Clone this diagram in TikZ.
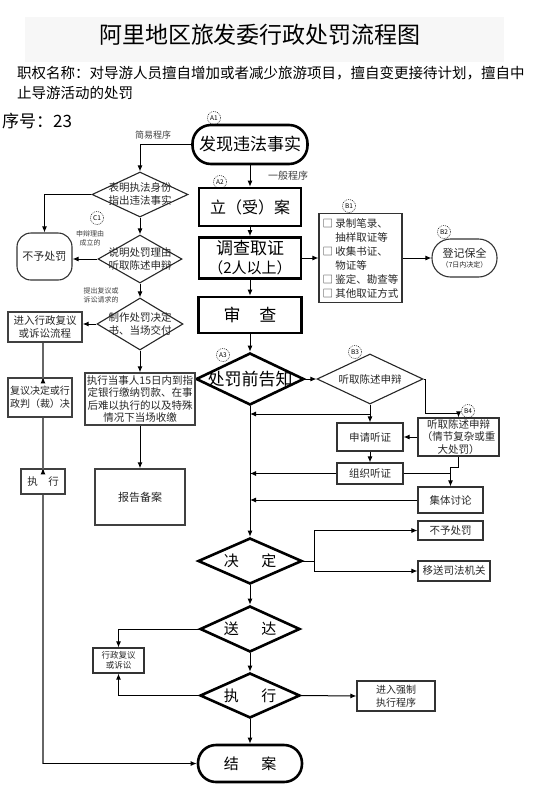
\documentclass[tikz,border=0pt]{standalone}
\usepackage{fontspec}
\setmainfont{Noto Sans CJK SC}
\usetikzlibrary{shapes.geometric,arrows.meta}
\newcommand\fs[2]{\fontsize{#1pt}{#2pt}\selectfont}
\begin{document}
\begin{tikzpicture}[x=1pt,y=-1pt,
  every node/.style={inner sep=1pt},
  thk/.style={draw=black, line width=2.6pt, align=center},
  bx/.style={draw=black!80, line width=1.1pt, align=center, text=black!85},
  lbx/.style={draw=black!75, line width=1.4pt, align=center, text=black!85},
  dia/.style={diamond, draw=black, line width=2.6pt, inner sep=0pt},
  sdia/.style={diamond, draw=black!85, line width=1.1pt, inner sep=0pt},
  arr/.style={draw=black, line width=1pt, -{Latex[length=6pt,width=5pt]}},
  garr/.style={draw=black!60, line width=1.8pt, -{Latex[length=6pt,width=5pt]}, arrows={-{Latex[length=6pt,width=5pt,fill=black,color=black]}}},
  ln/.style={draw=black, line width=1pt},
  gln/.style={draw=black!60, line width=1.8pt},
  tag/.style={circle, draw=black, dash pattern=on 1pt off 1pt, line width=0.5pt, minimum size=13pt, inner sep=0pt, font=\fs{6.5}{7}},
  note/.style={text=black!75, align=center},
]
\useasboundingbox (0,0) rectangle (554,796);
\fill[black!3] (25,17) rectangle (504,62);
% title
\node[font=\fs{23}{23}] (title) at (260,35) {阿里地区旅发委行政处罚流程图};
\node[font=\fs{14.5}{18}, anchor=west] (sub1) at (16,73) {职权名称：对导游人员擅自增加或者减少旅游项目，擅自变更接待计划，擅自中};
\node[font=\fs{14.5}{18}, anchor=west] (sub2) at (16,93) {止导游活动的处罚};
\node[font=\fs{17}{18}, anchor=west] (seq) at (1,121) {序号：23};

% main column
\node[thk, rounded corners=18.5pt, minimum width=115pt, minimum height=39pt, font=\fs{17}{18}] (find) at (250,144.5) {发现违法事实};
\node[thk, minimum width=102pt, minimum height=38pt, font=\fs{16}{18}] (case) at (250,207) {立（受）案};
\node[thk, minimum width=102pt, minimum height=41pt, font=\fs{17}{19}] (inv) at (250,258) {调查取证\\{\fs{15}{19}（2人以上）}};
\node[thk, minimum width=103pt, minimum height=36pt, font=\fs{17}{18}] (rev2) at (250,315) {审\hspace{1.1em}查};
\node[dia, minimum width=108pt, minimum height=52pt] (pre) at (250,379) {};
\node[font=\fs{17}{18}] (pret) at (pre) {处罚前告知};
\node[dia, minimum width=104pt, minimum height=46pt] (dec) at (250,561) {};
\node[font=\fs{15}{16}] (dect) at (dec) {决\hspace{1.5em}定};
\node[dia, minimum width=100pt, minimum height=46pt] (deliver) at (250,629) {};
\node[font=\fs{15}{16}] (delivert) at (deliver) {送\hspace{1.5em}达};
\node[dia, minimum width=100pt, minimum height=45pt] (exec2) at (250,695.5) {};
\node[font=\fs{15}{16}] (exec2t) at (exec2) {执\hspace{1.5em}行};
\node[thk, rounded corners=18pt, minimum width=104pt, minimum height=37pt, font=\fs{15}{16}] (end) at (250,763.5) {结\hspace{1.5em}案};

\node[tag] (a1) at (214,118) {A1};
\node[tag] (a2) at (220,182) {A2};
\node[tag] (a3) at (223,355) {A3};
\node[note, font=\fs{9}{10}] (simple) at (153,135) {简易程序};
\node[note, font=\fs{10}{11}] (general) at (288,176) {一般程序};

% left column
\node[sdia, minimum width=96pt, minimum height=45pt] (d1) at (140,194.5) {};
\node[font=\fs{10.5}{13}, align=center, text=black!85] (d1t) at (d1) {表明执法身份\\指出违法事实};
\node[sdia, minimum width=84pt, minimum height=48pt] (d2) at (140,259) {};
\node[font=\fs{10.5}{13}, align=center, text=black!85] (d2t) at (d2) {说明处罚理由\\听取陈述申辩};
\node[sdia, minimum width=86pt, minimum height=52pt] (d3) at (140,324) {};
\node[font=\fs{10.5}{13}, align=center, text=black!85] (d3t) at (d3) {制作处罚决定\\书、当场交付};
\node[bx, rounded corners=14pt, minimum width=55pt, minimum height=47pt, font=\fs{11}{12}] (noA) at (44.5,256.5) {不予处罚};
\node[tag] (c1) at (97,218) {C1};
\node[note, font=\fs{7}{9}] (reason) at (90,238) {申辩理由\\成立的};
\node[note, font=\fs{7}{9}] (request) at (101,295) {提出复议或\\诉讼请求的};
\node[lbx, minimum width=74pt, minimum height=30pt, font=\fs{10.5}{13}] (rev) at (45,327) {进入行政复议\\或诉讼流程};
\node[lbx, minimum width=64pt, minimum height=39pt, font=\fs{10}{13}] (decb) at (40,397.5) {复议决定或行\\政判（裁）决};
\node[lbx, minimum width=44pt, minimum height=25pt, font=\fs{10.5}{12}] (exec1) at (43,481.5) {执\hspace{1em}行};
\node[lbx, minimum width=110pt, minimum height=52pt, font=\fs{10.5}{12.5}] (pay) at (140,399) {执行当事人15日内到指\\定银行缴纳罚款、在事\\后难以执行的以及特殊\\情况下当场收缴};
\node[lbx, minimum width=90pt, minimum height=56pt, font=\fs{11}{12}] (report) at (140,497) {报告备案};

% right side
\node[bx, minimum width=83pt, minimum height=89pt, font=\fs{10.5}{14}, align=left, inner sep=2pt] (b1) at (360.5,258) {□ 录制笔录、\\\phantom{□ }抽样取证等\\□ 收集书证、\\\phantom{□ }物证等\\□ 鉴定、勘查等\\□ 其他取证方式};
\node[tag] (b1c) at (349,206) {B1};
\node[bx, rounded corners=18.5pt, minimum width=65pt, minimum height=38pt, font=\fs{11}{11}] (b2) at (464.5,258) {登记保全\\[-1pt]{\fs{7}{8}（7日内决定）}};
\node[tag] (b2c) at (444,232) {B2};
\node[sdia, minimum width=106pt, minimum height=50pt] (b3) at (370,379) {};
\node[font=\fs{10.5}{12}, text=black!85] (b3t) at (b3) {听取陈述申辩};
\node[tag] (b3c) at (355,352) {B3};
\node[bx, minimum width=81pt, minimum height=38pt, font=\fs{10.5}{12.5}] (b4) at (458.5,437) {听取陈述申辩\\（情节复杂或重\\大处罚）};
\node[tag] (b4c) at (468,411) {B4};
\node[bx, minimum width=66pt, minimum height=28pt, font=\fs{10.5}{12}] (hear) at (370,437) {申请听证};
\node[bx, minimum width=66pt, minimum height=21pt, font=\fs{10.5}{12}] (org) at (370,473.5) {组织听证};
\node[bx, minimum width=65pt, minimum height=26pt, font=\fs{10.5}{12}] (disc) at (450.5,500) {集体讨论};
\node[bx, minimum width=65pt, minimum height=19pt, font=\fs{10.5}{12}] (no2) at (450.5,530.5) {不予处罚};
\node[bx, minimum width=72pt, minimum height=20pt, font=\fs{10.5}{12}] (trans) at (454,571) {移送司法机关};
\node[bx, minimum width=51pt, minimum height=25pt, font=\fs{8.5}{10.5}] (adm) at (118.5,660.5) {行政复议\\或诉讼};
\node[bx, minimum width=78pt, minimum height=30pt, font=\fs{10}{13}] (force) at (396,696) {进入强制\\执行程序};

% connectors main
\draw[arr] (find.south) -- (case.north);
\draw[arr] (case.south) -- (inv.north);
\draw[arr] (inv.south) -- (rev2.north);
\draw[arr] (rev2.south) -- (pre.north);
\draw[arr] (pre.south) -- (dec.north);
\draw[arr] (dec.south) -- (deliver.north);
\draw[arr] (deliver.south) -- (exec2.north);
\draw[arr] (exec2.south) -- (end.north);
\draw[arr] (inv.east) -- (b1.west);
\draw[arr] (b1.east) -- (b2.west);

% simple procedure
\draw[arr] (find.west) -| (d1.north);
\draw[arr] (d1.west) -| (noA.north);
\draw[arr] (d1.south) -- (d2.north);
\draw[arr] (d2.west) -- (d2.west -| noA.east);
\draw[arr] (d2.south) -- (d3.north);
\draw[arr] (d3.west) -- (d3.west -| rev.east);
\draw[arr] (d3.south) -- (pay.north);
\draw[arr] (pay.south) -- (report.north);
\draw[gln] (rev.south -| exec1.north) -- ([yshift=-4pt]decb.north -| exec1.north);
\draw[arr] ([yshift=-4pt]decb.north -| exec1.north) -- (decb.north -| exec1.north);
\draw[gln] (decb.south -| exec1.north) -- ([yshift=-4pt]exec1.north);
\draw[arr] ([yshift=-4pt]exec1.north) -- (exec1.north);
\draw[gln] (exec1.south) -- (exec1.south |- end.west);
\draw[arr] (exec1.south |- end.west) -- (end.west);

% notice / hearing
\draw[arr] (pre.east) -- (b3.west);
\coordinate (k1) at (425,413);
\draw[arr] (b3.east) -| (k1) -| (b4.north);
\draw[arr] (b3.south) -- (hear.north);
\coordinate (k2) at (370,414);
\draw[arr] (k2) -- (k2 -| pre.south);
\draw[arr] (b4.west) -- (hear.east);
\draw[arr] (hear.south) -- (org.north);
\draw[arr] (org.west) -- (org.west -| pre.south);
\draw[arr] (b4.south) -- ++(0,11) -| (disc.north);
\draw[ln] (org.east) -- (org.east -| disc.north);
\draw[arr] (disc.west) -- (disc.west -| pre.south);

% decision
\coordinate (k3) at (314,561);
\draw[ln] (dec.east) -- (k3);
\draw[arr] (k3) |- (no2.west);
\draw[arr] (k3) |- (trans.west);

% delivery / execution
\draw[arr] (deliver.west) -| (adm.north);
\draw[arr] (exec2.west) -| (adm.south);
\draw[arr] (exec2.east) -- (force.west);
\end{tikzpicture}
\end{document}
